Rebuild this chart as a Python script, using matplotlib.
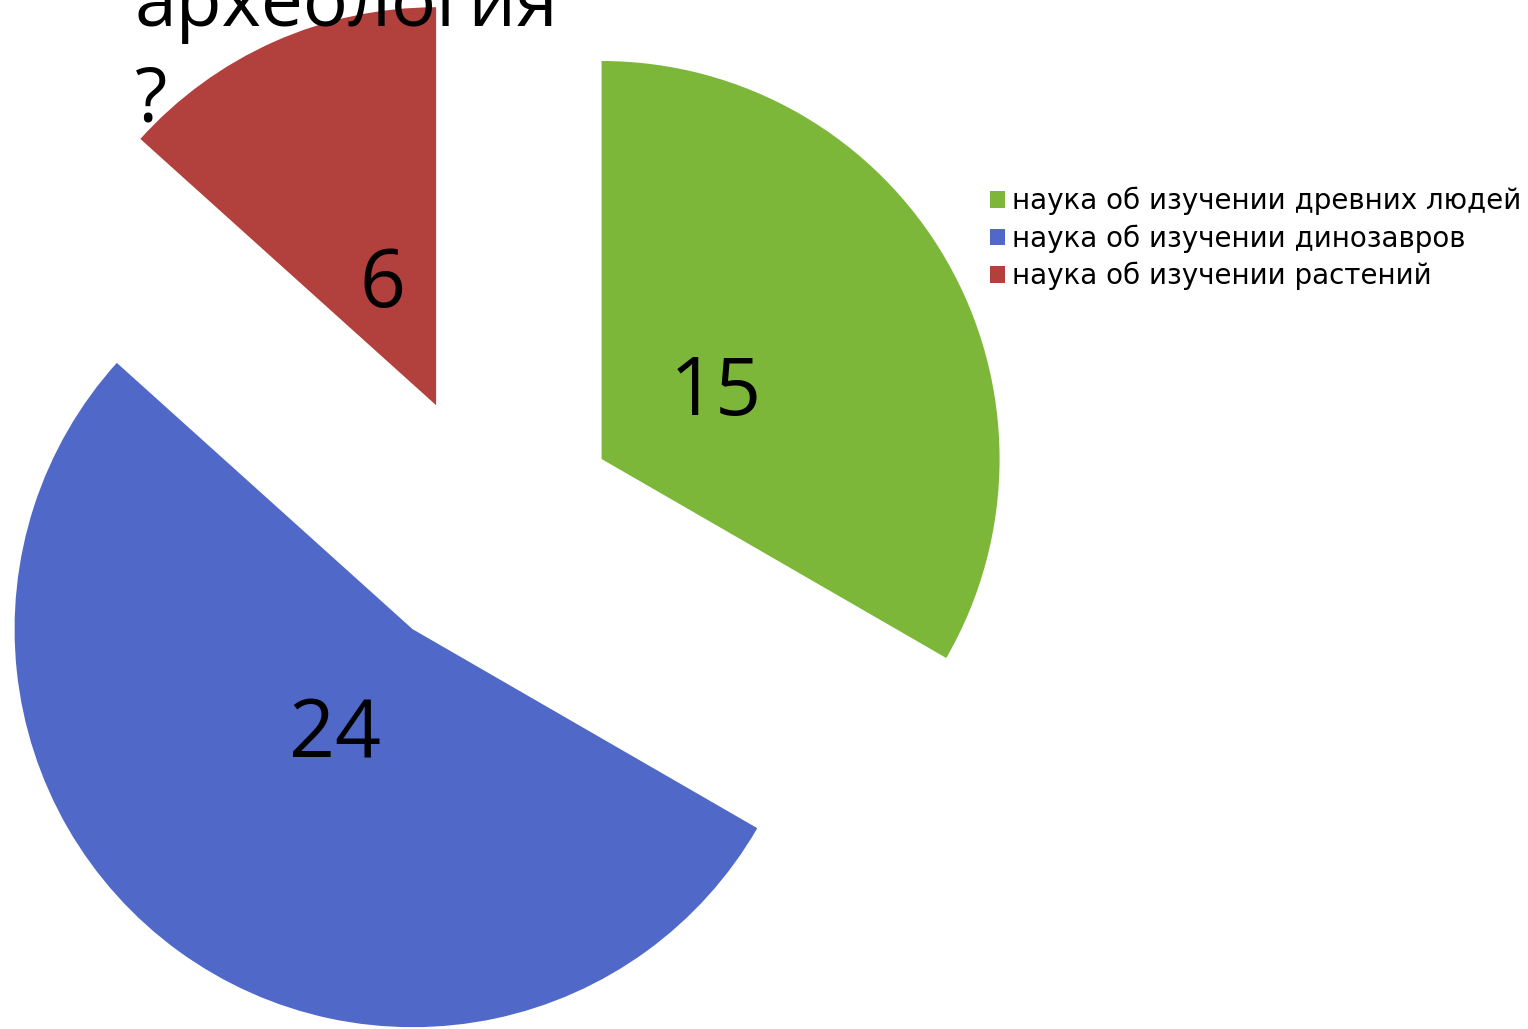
import matplotlib
matplotlib.use("Agg")
import matplotlib.pyplot as plt

# данные диаграммы
title = "археология\n?"
labels = [
    "наука об изучении древних людей",
    "наука об изучении динозавров",
    "наука об изучении растений",
]
values = [15, 24, 6]
colors = ["#7cb73a", "#5068c8", "#b2403d"]

W, H = 1528, 1029


def main():
    fig = plt.figure(figsize=(W / 100, H / 100), dpi=100)
    ax = fig.add_axes([0, 0, 1, 1])

    # explode задаётся в единицах данных (пиксели)
    wedges, texts, autotexts = ax.pie(
        values,
        colors=colors,
        explode=[130] * len(values),
        startangle=90,
        counterclock=False,
        radius=398,
        center=(489, H - 524),
        autopct=lambda p: f"{round(p * sum(values) / 100):d}",
        pctdistance=0.33,
        wedgeprops={"linewidth": 0},
        textprops={"family": "Open Sans", "fontsize": 58, "color": "black"},
    )
    ax.set_xlim(0, W)
    ax.set_ylim(0, H)
    ax.set_aspect("equal")
    ax.axis("off")

    ax.text(
        135, H - 122, title,
        family="Open Sans", fontsize=54, va="baseline", ha="left",
        linespacing=1.37, zorder=5,
    )

    fig.legend(
        wedges, labels,
        loc="upper left", bbox_to_anchor=(990 / W, 1 - 187 / H),
        frameon=False, prop={"family": "DejaVu Sans", "size": 20},
        handlelength=0.55, handleheight=0.55, handletextpad=0.25,
        labelspacing=0.32, borderaxespad=0, borderpad=0,
    )

    fig.savefig("out.png", dpi=100)


if __name__ == "__main__":
    main()
